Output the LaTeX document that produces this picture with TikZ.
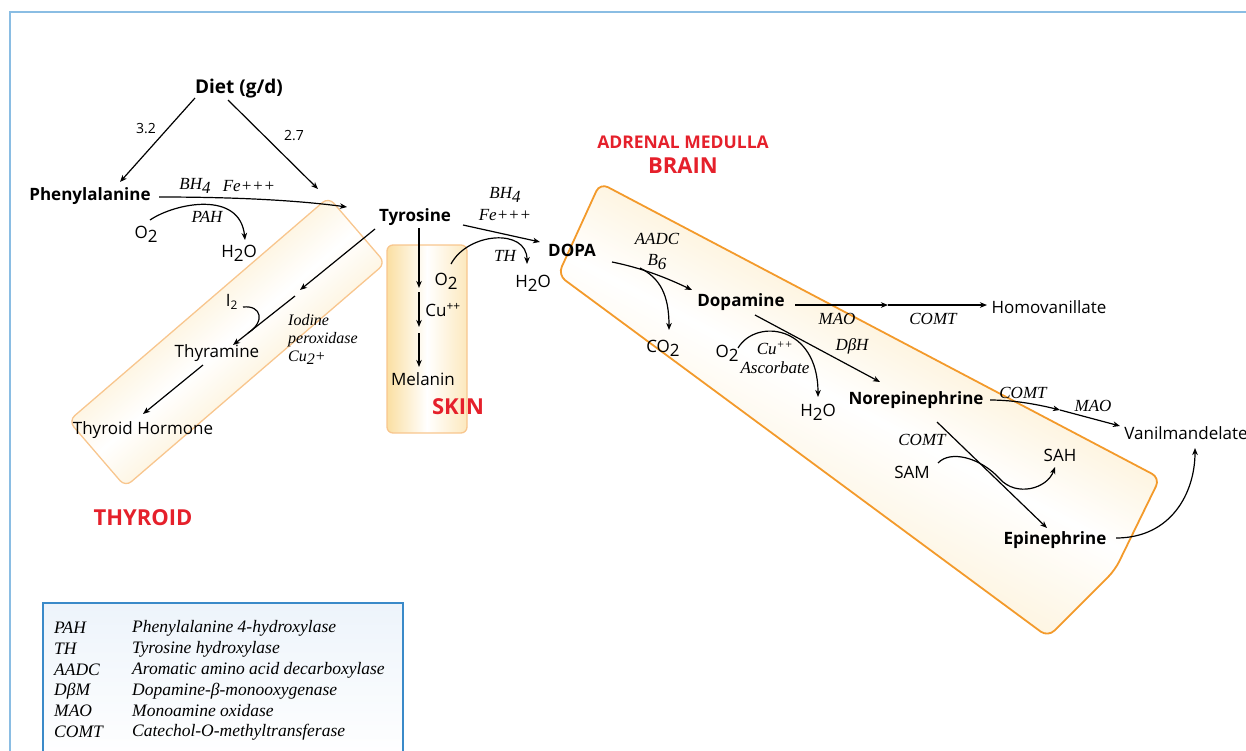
\documentclass[tikz,border=0pt]{standalone}
\usepackage{fontspec}
\setsansfont{Open Sans}
\newfontfamily\enzfont{Liberation Serif}
\usetikzlibrary{arrows.meta,calc}
\definecolor{brainline}{HTML}{F39A2B}
\definecolor{boxline}{HTML}{F8C68E}
\definecolor{boxfill}{HTML}{FBDFA2}
\definecolor{labelred}{HTML}{E5202B}
\definecolor{frameblue}{HTML}{8ABDE3}
\definecolor{keyblue}{HTML}{3A8AC9}
\definecolor{keyfill}{HTML}{EDF4FB}
\newcommand{\lowfig}[1]{\raisebox{-0.22em}{#1}}
\tikzset{
compound/.style={
font=\sffamily\bfseries\fontsize{17}{20}\selectfont,
inner sep=1pt
},
plainlbl/.style={
font=\sffamily\fontsize{17}{20}\selectfont,
inner sep=1pt
},
smalllbl/.style={
font=\sffamily\fontsize{14}{17}\selectfont,
inner sep=1pt
},
enzyme/.style={
font=\enzfont\itshape\fontsize{17}{20}\selectfont,
inner sep=1pt
},
keytext/.style={
font=\enzfont\itshape\fontsize{17.5}{20}\selectfont,
inner sep=1pt,
anchor=west
},
tissue/.style={
font=\sffamily\bfseries\fontsize{22}{26}\selectfont,
text=labelred,
inner sep=1pt
},
arrow/.style={
-{Stealth[length=7pt,width=5.5pt,inset=2pt]},
line width=1.2pt
},
link/.style={
line width=1.2pt
}
}

\begin{document}
\begin{tikzpicture}[x=1pt,y=-1pt]
\useasboundingbox (0,0) rectangle (1246,750);
\draw[frameblue,line width=2.5pt] (10,760) -- (10,12) -- (1256,12);

% organ boxes
\node[draw=boxline,line width=1.3pt,rounded corners=8pt,minimum width=343,minimum height=87,
rotate=40.7,top color=boxfill,bottom color=boxfill,middle color=white,shading angle=40.7] (thyroidbox) at (227,342) {};
\node[draw=boxline,line width=1.3pt,rounded corners=6pt,minimum width=80,minimum height=188,
left color=boxfill,right color=boxfill!70,middle color=white] (skinbox) at (427,339) {};
\shadedraw[draw=brainline,line width=1.8pt,rounded corners=9pt,top color=boxfill,bottom color=boxfill!70,
middle color=white,shading angle=-28] (600,183) -- (1160,478) -- (1115,570) -- (1048,637) -- (558,275) -- cycle;

% key
\shadedraw[draw=keyblue,line width=1.5pt,top color=keyfill,bottom color=white] (43,760) rectangle (403,603);
\node[keytext] (keyabbra) at (53,628) {PAH};
\node[keytext] (keyabbrb) at (53,649) {TH};
\node[keytext] (keyabbrc) at (53,670) {AADC};
\node[keytext] (keyabbrd) at (53,691) {DβM};
\node[keytext] (keyabbre) at (53,711) {MAO};
\node[keytext] (keyabbrf) at (53,732) {COMT};
\node[keytext] (keyfulla) at (131,628) {Phenylalanine 4-hydroxylase};
\node[keytext] (keyfullb) at (131,649) {Tyrosine hydroxylase};
\node[keytext] (keyfullc) at (131,670) {Aromatic amino acid decarboxylase};
\node[keytext] (keyfulld) at (131,691) {Dopamine-β-monooxygenase};
\node[keytext] (keyfulle) at (131,711) {Monoamine oxidase};
\node[keytext] (keyfullf) at (131,732) {Catechol-O-methyltransferase};

% tissues
\node[tissue,font=\sffamily\bfseries\fontsize{17.5}{20}\selectfont] (adrenal) at (683,142) {ADRENAL MEDULLA};
\node[tissue] (brain) at (683,166) {BRAIN};
\node[tissue] (thyroid) at (143,518) {THYROID};
\node[tissue] (skin) at (458,407) {SKIN};

% compounds
\node[compound,font=\sffamily\bfseries\fontsize{19}{22}\selectfont] (diet) at (239,89) {Diet (g/d)};
\node[compound] (phe) at (90,196) {Phenylalanine};
\node[compound] (tyr) at (415,217) {Tyrosine};
\node[compound] (dopa) at (572,250) {DOPA};
\node[compound] (dopamine) at (741,302) {Dopamine};
\node[compound] (norepi) at (916,400) {Norepinephrine};
\node[compound] (epi) at (1055,540) {Epinephrine};
\node[plainlbl] (homovan) at (1049,307) {Homovanillate};
\node[plainlbl] (vanil) at (1186,433) {Vanilmandelate};
\node[plainlbl] (thyramine) at (217,353) {Thyramine};
\node[plainlbl] (hormone) at (143,430) {Thyroid Hormone};
\node[plainlbl] (melanin) at (423,379) {Melanin};

% cofactors and enzymes
\node[smalllbl] (ratea) at (146,129) {3.2};
\node[smalllbl] (rateb) at (294,136) {2.7};
\node[plainlbl] (oxa) at (146,234) {O\lowfig{2}};
\node[plainlbl] (watera) at (239,253) {H\lowfig{2}O};
\node[enzyme] (bha) at (195,186) {BH\lowfig{4}};
\node[enzyme] (fea) at (249,186) {Fe+++};
\node[enzyme] (pah) at (207,217) {PAH};
\node[enzyme] (bhb) at (505,195) {BH\lowfig{4}};
\node[enzyme] (feb) at (505,215) {Fe+++};
\node[enzyme] (th) at (505,256) {TH};
\node[plainlbl] (oxb) at (446,281) {O\lowfig{2}};
\node[plainlbl] (waterb) at (533,283) {H\lowfig{2}O};
\node[plainlbl] (cua) at (443,310) {Cu\textsuperscript{++}};
\node[plainlbl] (iodine) at (232,302) {I\textsubscript{2}};
\node[enzyme,font=\enzfont\itshape\fontsize{16}{18}\selectfont,align=left,anchor=north west] (perox) at (287,313) {Iodine\\peroxidase\\Cu\lowfig{2}+};
\node[enzyme] (aadc) at (657,239) {AADC};
\node[enzyme] (bsix) at (657,262) {B\lowfig{6}};
\node[plainlbl] (cotwo) at (663,348) {CO\lowfig{2}};
\node[enzyme] (maoa) at (837,319) {MAO};
\node[enzyme] (comta) at (933,319) {COMT};
\node[enzyme] (dbh) at (852,346) {DβH};
\node[plainlbl] (oxc) at (727,353) {O\lowfig{2}};
\node[enzyme] (cub) at (775,348) {Cu\textsuperscript{++}};
\node[enzyme] (ascorb) at (775,368) {Ascorbate};
\node[plainlbl] (waterc) at (818,412) {H\lowfig{2}O};
\node[enzyme] (comtb) at (1023,393) {COMT};
\node[enzyme] (maob) at (1093,406) {MAO};
\node[enzyme] (comtc) at (922,440) {COMT};
\node[plainlbl] (sam) at (912,472) {SAM};
\node[plainlbl] (sah) at (1060,455) {SAH};

\coordinate (iodstep) at (300,290);
\coordinate (skinox) at (419,290);
\coordinate (skincu) at (419,330);
\coordinate (decarb) at (640,268);
\coordinate (homomid) at (888,305);
\coordinate (vanmid) at (1060,410);
\coordinate (samvia) at (1000,479);

% diet
\draw[arrow] ($(diet)+(-44,9)$) -- ($(phe)+(30,-14)$);
\draw[arrow] ($(diet)+(-11,11)$) -- ($(tyr)+(-97,-28)$);

% phenylalanine to tyrosine
\draw[arrow] ($(phe)+(69,1)$) .. controls +(60,0) and +(-60,-8) .. ($(tyr)+(-68,-10)$);
\draw[arrow] ($(oxa)+(4,-14)$) .. controls +(25,-17) and +(-5,-50) .. ($(watera)+(6,-13)$);

% tyrosine to dopa
\draw[arrow] ($(tyr)+(48,8)$) -- ($(dopa)+(-32,-8)$);
\draw[arrow] ($(oxb)+(5,-17)$) .. controls +(17,-32) and +(0,-36) .. ($(waterb)+(-6,-19)$);

% thyroid
\draw[arrow] ($(tyr)+(-40,12)$) -- (iodstep);
\draw[arrow] ($(iodstep)+(-5,6)$) -- ($(thyramine)+(16,-8)$);
\draw[link] ($(iodine)+(11,5)$) .. controls +(19,-2) and +(17,-11) .. ($(iodstep)+(-52,43)$);
\draw[arrow] ($(thyramine)+(-14,12)$) -- ($(hormone)+(0,-16)$);

% skin
\draw[arrow] ($(tyr)+(4,11)$) -- ($(skinox)+(0,-2)$);
\draw[arrow] ($(skinox)+(0,2)$) -- ($(skincu)+(0,-3)$);
\draw[arrow] ($(skincu)+(0,3)$) -- ($(melanin)+(-4,-12)$);

% brain, adrenal medulla
\draw[arrow] ($(dopa)+(40,12)$) .. controls +(30,6) and +(-25,-12) .. ($(dopamine)+(-49,-12)$);
\draw[arrow] (decarb) .. controls +(20,10) and +(0,-35) .. ($(cotwo)+(6,-18)$);
\draw[arrow] ($(dopamine)+(54,3)$) -- (homomid);
\draw[arrow] (homomid) -- ($(homovan)+(-62,-2)$);
\draw[arrow] ($(dopamine)+(14,13)$) -- ($(norepi)+(-36,-18)$);
\draw[arrow] ($(oxc)+(11,-5)$) .. controls +(18,-30) and +(0,-72) .. ($(waterc)+(0,-15)$);
\draw[arrow] ($(norepi)+(74,0)$) .. controls +(25,0) and +(-20,-5) .. (vanmid);
\draw[arrow] (vanmid) -- ($(vanil)+(-66,-7)$);
\draw[arrow] ($(norepi)+(21,22)$) -- ($(epi)+(-8,-12)$);
\draw[arrow] ($(sam)+(26,-9)$) .. controls +(12,-13) and +(-20,-22) .. (samvia) .. controls +(16,18) and +(-8,22) .. ($(sah)+(-5,12)$);
\draw[arrow] ($(epi)+(61,-2)$) .. controls +(55,0) and +(0,45) .. ($(vanil)+(9,15)$);
\end{tikzpicture}
\end{document}
